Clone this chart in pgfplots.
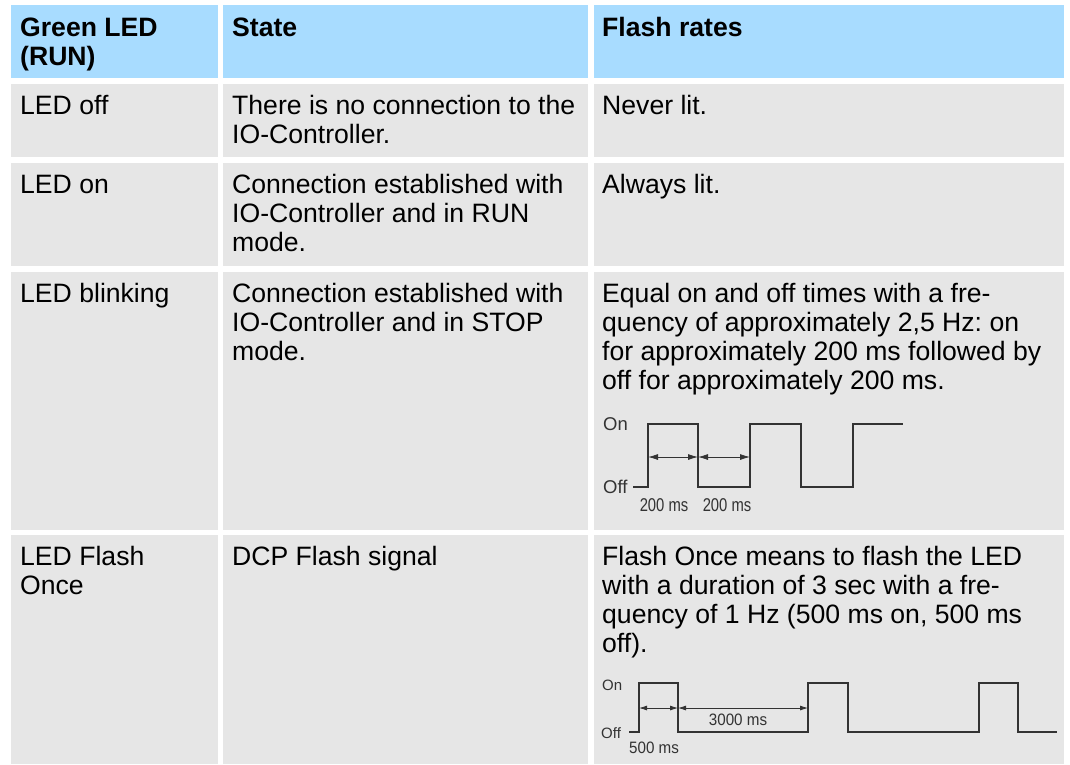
\documentclass[border=0pt]{standalone}
\usepackage{fontspec}
\setmainfont{Liberation Sans}
\newfontfamily\condA{Liberation Sans}[FakeStretch=0.8]
\newfontfamily\condB{Liberation Sans}[FakeStretch=0.92]
\usepackage{pgfplots}
\pgfplotsset{compat=1.18}
\usetikzlibrary{arrows.meta}
\definecolor{hdr}{HTML}{A8DCFF}
\definecolor{cell}{HTML}{E6E6E6}
\definecolor{wave}{HTML}{333333}
\frenchspacing
\begin{document}
\frenchspacing
\begin{tikzpicture}
\begin{scope}[x=1pt,y=-1pt]
\fill[white] (0,0) rectangle (1070,764);
% header
\fill[hdr] (10.5,5) rectangle (218,78);
\fill[hdr] (223,5) rectangle (588,78);
\fill[hdr] (593.5,5) rectangle (1064,78);
% body rows
\foreach \a/\b in {83.5/157,162.7/266,271.7/529.5,535/764}{
  \fill[cell] (10.5,\a) rectangle (218,\b);
  \fill[cell] (223,\a) rectangle (588,\b);
  \fill[cell] (593.5,\a) rectangle (1064,\b);
}
\begin{scope}[every node/.style={anchor=base west,inner sep=0pt,font=\fontsize{26.6}{29.3}\selectfont\frenchspacing}]
% header text
\node[font=\fontsize{26.6}{29.3}\selectfont\bfseries] at (20,36.5) {Green LED};
\node[font=\fontsize{26.6}{29.3}\selectfont\bfseries] at (20,65) {(RUN)};
\node[font=\fontsize{26.6}{29.3}\selectfont\bfseries] at (232,36.5) {State};
\node[font=\fontsize{26.6}{29.3}\selectfont\bfseries] at (602,36.5) {Flash rates};
% row 1
\node at (20,114.3) {LED off};
\node at (232,114.3) {There is no connection to the};
\node at (232,143) {IO-Controller.};
\node at (602,114.3) {Never lit.};
% row 2
\node at (20,193.5) {LED on};
\node at (232,193.5) {Connection established with};
\node at (232,222.3) {IO-Controller and in RUN};
\node at (232,251.3) {mode.};
\node at (602,193.5) {Always lit.};
% row 3
\node at (20,302) {LED blinking};
\node at (232,302) {Connection established with};
\node at (232,331) {IO-Controller and in STOP};
\node at (232,360.3) {mode.};
\node at (602,302) {Equal on and off times with a fre-};
\node at (602,331) {quency of approximately 2,5 Hz: on};
\node at (602,360.3) {for approximately 200 ms followed by};
\node at (602,389.5) {off for approximately 200 ms.};
% row 4
\node at (20,565) {LED Flash};
\node at (20,594) {Once};
\node at (232,565) {DCP Flash signal};
\node at (602,565) {Flash Once means to flash the LED};
\node at (602,594) {with a duration of 3 sec with a fre-};
\node at (602,623) {quency of 1 Hz (500 ms on, 500 ms};
\node at (602,652) {off).};
\end{scope}
\end{scope}
\begin{axis}[at={(0pt,-764pt)},anchor=south west,
  width=1070pt,height=764pt,scale only axis,
  xmin=0,xmax=1070,ymin=0,ymax=764,y dir=reverse,
  hide axis,clip=false,
  >={Latex[length=10pt,width=6pt]}]
% blinking waveform
\addplot[wave,line width=1.3pt,mark=none] coordinates {
 (633,487) (648,487) (648,424) (698,424) (698,487) (750,487)
 (750,424) (801,424) (801,487) (853,487) (853,424) (903,424)};
\addplot[wave,line width=0.8pt,mark=none,<->] coordinates {(648,457) (698,457)};
\addplot[wave,line width=0.8pt,mark=none,<->] coordinates {(698,457) (750,457)};
\node[anchor=west,inner sep=0pt,text=wave,font=\fontsize{18.5}{20}\selectfont] at (axis cs:603,424) {On};
\node[anchor=west,inner sep=0pt,text=wave,font=\fontsize{18.5}{20}\selectfont] at (axis cs:603,487) {Off};
\node[inner sep=0pt,text=wave,font=\condA\fontsize{18.5}{20}\selectfont] at (axis cs:664,505) {200 ms};
\node[inner sep=0pt,text=wave,font=\condA\fontsize{18.5}{20}\selectfont] at (axis cs:727,505) {200 ms};
% flash once waveform
\addplot[wave,line width=1.3pt,mark=none] coordinates {
 (629,732) (639,732) (639,683) (678,683) (678,732) (808,732)
 (808,683) (848,683) (848,732) (979,732) (979,683) (1018,683)
 (1018,732) (1057,732)};
\addplot[wave,line width=0.8pt,mark=none,<->,>={Latex[length=8pt,width=5pt]}] coordinates {(639,708) (678,708)};
\addplot[wave,line width=0.8pt,mark=none,<->,>={Latex[length=8pt,width=5pt]}] coordinates {(678,708) (808,708)};
\node[anchor=west,inner sep=0pt,text=wave,font=\fontsize{15}{17}\selectfont] at (axis cs:602,685) {On};
\node[anchor=west,inner sep=0pt,text=wave,font=\fontsize{15}{17}\selectfont] at (axis cs:601,733) {Off};
\node[anchor=west,inner sep=0pt,text=wave,font=\condB\fontsize{16.5}{18}\selectfont] at (axis cs:629,748) {500 ms};
\node[inner sep=0pt,text=wave,font=\condB\fontsize{16.5}{18}\selectfont] at (axis cs:738,720) {3000 ms};
\end{axis}
\pgfresetboundingbox
\path[use as bounding box] (0pt,0pt) rectangle (1070pt,-764pt);
\end{tikzpicture}
\end{document}
